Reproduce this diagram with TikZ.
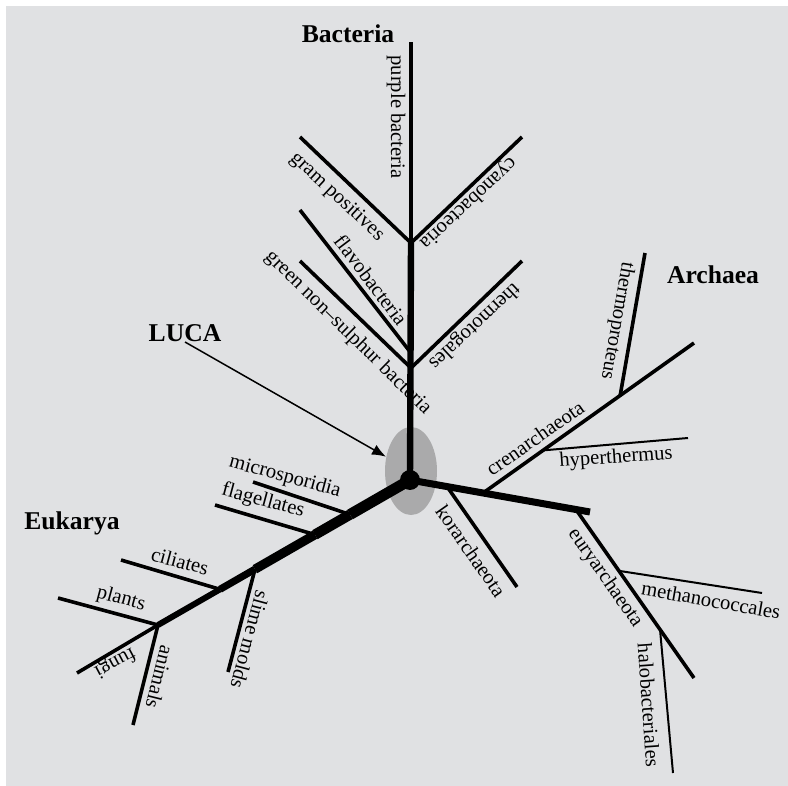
\documentclass[tikz,border=0pt]{standalone}
\usepackage{fontspec}
\setmainfont{Liberation Serif}
\usetikzlibrary{shapes.geometric,arrows.meta,calc}
\definecolor{panel}{RGB}{224,225,227}
\definecolor{lucagray}{RGB}{170,170,171}
\begin{document}
\begin{tikzpicture}[x=0.5pt,y=-0.5pt,
  trunk/.style={line width=3.2pt},
  branch/.style={line width=1.8pt},
  twig/.style={line width=1pt},
  lbl/.style={inner sep=0pt,font=\fontsize{10.3}{12}\selectfont},
  kingdom/.style={inner sep=0pt,font=\fontsize{12.8}{15}\selectfont\bfseries}]
\useasboundingbox (0,0) rectangle (788,786);
\fill[panel] (6,6) rectangle (788,786);
\node[ellipse,fill=lucagray,minimum width=26pt,minimum height=44pt,inner sep=0pt] (cloud) at (411,471) {};

\coordinate (root) at (410,480);
% bacteria
\coordinate (bTop) at (411,42);
\coordinate (bForkA) at (411,243);
\coordinate (bForkB) at (411,353);
\coordinate (bForkC) at (411,368);
\coordinate (gramTip) at (300,137);
\coordinate (cyanoTip) at (522,137);
\coordinate (flavoTip) at (300,210);
\coordinate (greenTip) at (300,261);
\coordinate (thermoTip) at (522,261);
\draw[trunk] (root) -- (bForkA);
\draw[branch] (bForkA) -- (bTop);
\draw[branch] (gramTip) -- (bForkA) -- (cyanoTip);
\draw[branch] (flavoTip) -- (bForkB);
\draw[branch] (greenTip) -- (bForkC) -- (thermoTip);

% archaea
\coordinate (aEnd) at (590,512);
\coordinate (korFork) at ($(root)!0.206!(aEnd)$);
\coordinate (crenFork) at ($(root)!0.406!(aEnd)$);
\coordinate (euryFork) at ($(root)!0.922!(aEnd)$);
\coordinate (crenTip) at (694,343);
\coordinate (korTip) at (517,587);
\coordinate (euryTip) at (694,678);
\coordinate (tprotFork) at ($(crenFork)!0.65!(crenTip)$);
\coordinate (hypFork) at ($(crenFork)!0.284!(crenTip)$);
\coordinate (methFork) at ($(euryFork)!0.364!(euryTip)$);
\coordinate (haloFork) at ($(euryFork)!0.712!(euryTip)$);
\draw[line width=3.5pt] (root) -- (aEnd);
\draw[branch] (crenFork) -- (crenTip);
\draw[branch] (korFork) -- (korTip);
\draw[branch] (euryFork) -- (euryTip);
\draw[branch] (tprotFork) -- (645,253);
\draw[twig] (hypFork) -- (688,438);
\draw[twig] (methFork) -- (762,593);
\draw[twig] (haloFork) -- (673,773);

% eukarya
\coordinate (eFork) at (158,625);
\coordinate (microFork) at ($(root)!0.238!(eFork)$);
\coordinate (flagFork) at ($(root)!0.377!(eFork)$);
\coordinate (slimeFork) at ($(root)!0.615!(eFork)$);
\coordinate (ciliFork) at ($(root)!0.754!(eFork)$);
\draw[line width=5.5pt] (root) -- (microFork);
\draw[line width=5.2pt] (microFork) -- (flagFork);
\draw[line width=4.6pt] (flagFork) -- (slimeFork);
\draw[line width=3.6pt] (slimeFork) -- (ciliFork);
\draw[line width=3pt] (ciliFork) -- (eFork);
\draw[branch] (microFork) -- (253,482);
\draw[branch] (flagFork) -- (215,505);
\draw[branch] (slimeFork) -- (228,672);
\draw[branch] (ciliFork) -- (121,560);
\draw[branch] (eFork) -- (58,598);
\draw[branch] (eFork) -- (77,673);
\draw[branch] (eFork) -- (133,725);

\fill (root) circle (5pt);

\node[kingdom] (bact) at (348,34) {Bacteria};
\node[kingdom] (arch) at (713,275) {Archaea};
\node[kingdom] (euk) at (72,523) {Eukarya};
\node[kingdom] (luca) at (185,333) {LUCA};
\draw[line width=0.75pt,-{Latex[length=7pt,width=5.5pt]}] (luca.south) -- (cloud);

\node[lbl,rotate=-90] (lPurple) at (396,117) {purple bacteria};
\node[lbl,rotate=-43] (lGram) at (337,197) {gram positives};
\node[lbl,rotate=223] (lCyano) at (468,203) {cyanobacteoria};
\node[lbl,rotate=-53] (lFlavo) at (371,280) {flavobacteria};
\node[lbl,rotate=-44.5] (lGreen) at (348,333) {green non--sulphur bacteria};
\node[lbl,rotate=223] (lThermo) at (474,326) {thermotogales};
\node[lbl,rotate=-100] (lTprot) at (617,321) {thermoproteus};
\node[lbl,rotate=35] (lCren) at (535,438) {crenarchaeota};
\node[lbl,rotate=4] (lHyp) at (616,458) {hyperthermus};
\node[lbl,rotate=-55] (lKor) at (471,551) {korarchaeota};
\node[lbl,rotate=-55] (lEury) at (605,578) {euryarchaeota};
\node[lbl,rotate=-10] (lMeth) at (711,600) {methanococcales};
\node[lbl,rotate=-86] (lHalo) at (649,705) {halobacteriales};
\node[lbl,rotate=-15] (lMicro) at (285,477) {microsporidia};
\node[lbl,rotate=-15] (lFlag) at (263,501) {flagellates};
\node[lbl,rotate=-15] (lCili) at (180,561) {ciliates};
\node[lbl,rotate=-15] (lPlant) at (121,599) {plants};
\node[lbl,rotate=208] (lFungi) at (115,662) {fungi};
\node[lbl,rotate=-104] (lAnim) at (160,677) {animals};
\node[lbl,rotate=-105] (lSlime) at (250,640) {slime molds};
\end{tikzpicture}
\end{document}
